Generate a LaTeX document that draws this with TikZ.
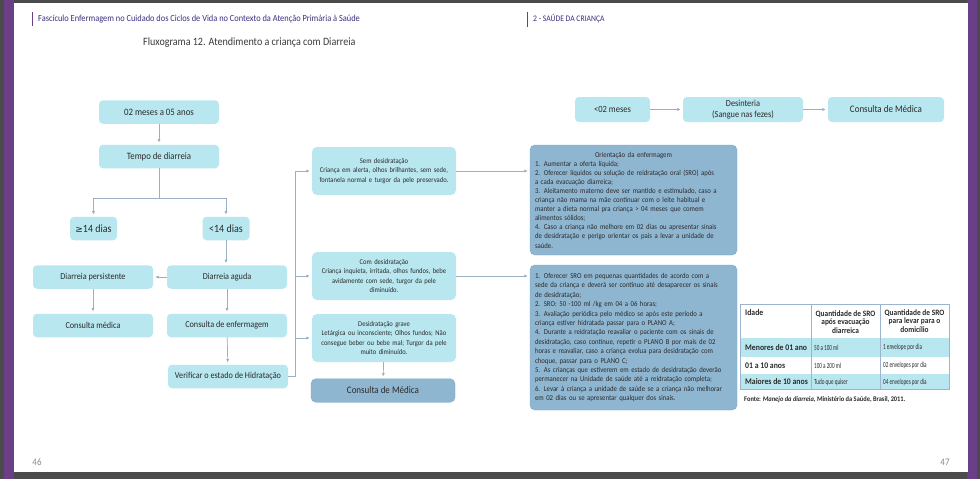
\documentclass[tikz,border=0pt]{standalone}
\usepackage{fontspec}
\setmainfont{Carlito}[FakeStretch=0.9]
\newfontfamily\condfont{Carlito}[FakeStretch=0.66]
\newfontfamily\symfont{DejaVu Sans}
\usetikzlibrary{arrows.meta}
\definecolor{framecol}{HTML}{4B4B4B}
\definecolor{purp}{HTML}{6B3F87}
\definecolor{hdr}{HTML}{3B2E7E}
\definecolor{titlecol}{HTML}{3A3A3A}
\definecolor{cyanbox}{HTML}{B9E7F0}
\definecolor{bluebox}{HTML}{8FB6D1}
\definecolor{blueedge}{HTML}{7FA6C3}
\definecolor{conncol}{HTML}{9BB0C5}
\definecolor{txt}{HTML}{2A2A2A}
\definecolor{tabline}{HTML}{9DB4CA}
\definecolor{pgnum}{HTML}{8A8A8A}
\begin{document}
\begin{tikzpicture}[x=1pt,y=-1pt,
  lbox/.style={fill=cyanbox, rounded corners=4pt, inner sep=0pt, minimum width=120pt, minimum height=23.5pt, align=center, text=txt, font=\fontsize{9.1}{10.8}\selectfont},
  sbox/.style={lbox, minimum width=47pt, font=\fontsize{11.1}{12}\selectfont},
  mbox/.style={fill=cyanbox, rounded corners=5pt, inner sep=0pt, minimum width=144pt, minimum height=48pt, align=center, text=txt, text width=140pt, font=\fontsize{7.3}{9.5}\selectfont},
  dbox/.style={fill=bluebox, draw=blueedge, line width=0.4pt, rounded corners=5pt, inner sep=0pt, text=txt},
  conn/.style={draw=conncol, line width=0.7pt},
  arr/.style={conn, -{Latex[length=3.5pt,width=3.2pt]}, shorten >=2pt},
  hd/.style={anchor=west, inner sep=0pt, text=hdr},
  tlab/.style={anchor=west, inner sep=0pt, text=txt, font=\bfseries\fontsize{8.6}{9}\selectfont},
  thead/.style={inner sep=0pt, text=txt, align=center, font=\bfseries\fontsize{8.2}{8.8}\selectfont},
  tval/.style={anchor=west, inner sep=0pt, text=txt, font=\condfont\fontsize{7.8}{8}\selectfont},
]
\useasboundingbox (0,0) rectangle (980,479);
% page frame
\fill[framecol] (0,0) rectangle (980,479);
\fill[purp] (4,0) rectangle (14,479);
\fill[purp] (967,0) rectangle (977,479);
\fill[white] (13.5,3) rectangle (967.5,472);

% header
\draw[purp, line width=0.8pt] (32,12) -- (32,26);
\node[hd, font=\fontsize{9.3}{10}\selectfont] (h1) at (38,19) {Fascículo Enfermagem no Cuidado dos Ciclos de Vida no Contexto da Atenção Primária à Saúde};
\draw[purp, line width=0.8pt] (527,12) -- (527,27);
\node[hd, font=\fontsize{8.5}{10}\selectfont] (h2) at (533,19) {2 - SAÚDE DA CRIANÇA};
\node[anchor=west, inner sep=0pt, text=titlecol, font=\fontsize{11.2}{12}\selectfont] (title) at (143,43) {Fluxograma 12. Atendimento a criança com Diarreia};

% left flow
\node[lbox, font=\fontsize{9.8}{10}\selectfont] (a1) at (159,112) {02 meses a 05 anos};
\node[lbox, font=\fontsize{9.7}{10}\selectfont] (a2) at (159,156.5) {Tempo de diarreia};
\node[sbox] (a3) at (93.5,228.5) {{\symfont\fontsize{9}{10}\selectfont ≥}14 dias};
\node[sbox] (a4) at (226,228.5) {<14 dias};
\node[lbox] (a5) at (227,277) {Diarreia aguda};
\node[lbox] (a6) at (93,277) {Diarreia persistente};
\node[lbox] (a7) at (93,325.5) {Consulta médica};
\node[lbox] (a8) at (227,325.5) {Consulta de enfermagem};
\node[lbox] (a9) at (228,376.5) {Verificar o estado de Hidratação};

% middle
\node[mbox] (b1) at (384,171) {Sem desidratação\\Criança em alerta, olhos brilhantes, sem sede,\\fontanela normal e turgor da pele preservado.};
\node[mbox] (b2) at (384,276) {Com desidratação\\Criança inquieta, irritada, olhos fundos, bebe\\avidamente com sede, turgor da pele\\diminuído.};
\node[mbox] (b3) at (384,338) {Desidratação grave\\Letárgica ou inconsciente; Olhos fundos; Não\\consegue beber ou bebe mal; Turgor da pele\\muito diminuído.};
\node[dbox, minimum width=144pt, minimum height=23.5pt, font=\fontsize{10}{11}\selectfont] (b4) at (383,390.5) {Consulta de Médica};

% right boxes
\node[dbox, minimum width=207pt, minimum height=110pt, text width=197pt, align=left, font=\fontsize{7.5}{9.1}\selectfont] (c1) at (633.5,200) {%
\makebox[197pt][c]{Orientação da enfermagem}\\
1. Aumentar a oferta líquida;\\
\makebox[197pt][s]{2. Oferecer líquidos ou solução de reidratação oral (SRO) após}\\
a cada evacuação diarreica;\\
\makebox[197pt][s]{3. Aleitamento materno deve ser mantido e estimulado, caso a}\\
criança não mama na mãe continuar com o leite habitual e\\
manter a dieta normal pra criança > 04 meses que comem\\
alimentos sólidos;\\
\makebox[197pt][s]{4. Caso a criança não melhore em 02 dias ou apresentar sinais}\\
\makebox[197pt][s]{de desidratação e perigo orientar os pais a levar a unidade de}\\
saúde.};
\node[dbox, minimum width=207pt, minimum height=145pt, text width=197pt, align=left, font=\fontsize{7.5}{9.4}\selectfont] (c2) at (633.5,337.5) {%
\makebox[197pt][s]{1. Oferecer SRO em pequenas quantidades de acordo com a}\\
\makebox[197pt][s]{sede da criança e deverá ser contínuo até desaparecer os sinais}\\
de desidratação;\\
2. SRO: 50 -100 ml /kg em 04 a 06 horas;\\
\makebox[197pt][s]{3. Avaliação periódica pelo médico se após este período a}\\
criança estiver hidratada passar para o PLANO A;\\
\makebox[197pt][s]{4. Durante a reidratação reavaliar o paciente com os sinais de}\\
\makebox[197pt][s]{desidratação, caso continue, repetir o PLANO B por mais de 02}\\
\makebox[197pt][s]{horas e reavaliar, caso a criança evolua para desidratação com}\\
choque, passar para o PLANO C;\\
\makebox[197pt][s]{5. As crianças que estiverem em estado de desidratação deverão}\\
\makebox[195pt][s]{permanecer na Unidade de saúde até a reidratação completa;}\\
\makebox[197pt][s]{6. Levar à criança a unidade de saúde se a criança não melhorar}\\
em 02 dias ou se apresentar qualquer dos sinais.};

% top row
\node[lbox, minimum width=75pt, minimum height=25pt, font=\fontsize{9.5}{10}\selectfont] (d1) at (612.5,109.5) {<02 meses};
\node[lbox, minimum height=25pt, font=\fontsize{9.2}{10.4}\selectfont] (d2) at (743,109.5) {Desinteria\\(Sangue nas fezes)};
\node[lbox, minimum width=116pt, minimum height=25pt, font=\fontsize{10}{10}\selectfont] (d3) at (886,109.5) {Consulta de Médica};

% connectors
\coordinate (j1) at (159,198);
\coordinate (j2) at (295,376.5);
\draw[arr] (a1) -- (a2);
\draw[conn] (a2) -- (j1);
\draw[arr] (j1) -| (a3);
\draw[arr] (j1) -| (a4);
\draw[arr] (a4.south) -- (a4.south |- a5.north);
\draw[arr] (a5) -- (a6);
\draw[arr] (a6) -- (a7);
\draw[arr] (a5) -- (a8);
\draw[arr] (a8) -- (a9);
\draw[conn] (a9.east) -- (j2);
\draw[arr] (j2) |- (b1.west);
\draw[arr] (j2) |- (b2.west);
\draw[arr] (j2) |- (b3.west);
\draw[arr] (b1.east) -- (b1.east -| c1.west);
\draw[arr] (b2.east) -- (b2.east -| c2.west);
\draw[arr] (b3) -- (b4);
\draw[arr] (d1) -- (d2);
\draw[arr] (d2) -- (d3);

% table
\fill[cyanbox] (740,338) rectangle (949,356.5);
\fill[cyanbox] (740,374) rectangle (949,389);
\draw[tabline, line width=0.6pt] (740,304) rectangle (949,389);
\draw[tabline, line width=0.6pt] (811,304) -- (811,389) (880,304) -- (880,389);
\node[tlab] (t0) at (745,313) {Idade};
\node[thead] (t1) at (845.5,322) {Quantidade de SRO\\após evacuação\\diarreica};
\node[thead] (t2) at (914.5,321) {Quantidade de SRO\\para levar para o\\domicílio};
\node[tlab] (r1) at (745,347.5) {Menores de 01 ano};
\node[tval] (r1b) at (814,347.5) {50 a 100 ml};
\node[tval] (r1c) at (883,347.5) {1 envelope por dia};
\node[tlab] (r2) at (745,365.5) {01 a 10 anos};
\node[tval] (r2b) at (814,365.5) {100 a 200 ml};
\node[tval] (r2c) at (883,365.5) {02 envelopes por dia};
\node[tlab] (r3) at (745,382) {Maiores de 10 anos};
\node[tval] (r3b) at (814,382) {Tudo que quiser};
\node[tval] (r3c) at (883,382) {04 envelopes por dia};
\node[anchor=west, inner sep=0pt, text=txt, font=\bfseries\fontsize{7.1}{8}\selectfont] (fonte) at (744,400) {\textbf{Fonte: \textit{Manejo da diarreia}, Ministério da Saúde, Brasil, 2011.}};

% page numbers
\node[inner sep=0pt, text=pgnum, font=\fontsize{10}{10}\selectfont] (p46) at (37,462) {46};
\node[inner sep=0pt, text=pgnum, font=\fontsize{10}{10}\selectfont] (p47) at (945,462) {47};
\end{tikzpicture}
\end{document}
